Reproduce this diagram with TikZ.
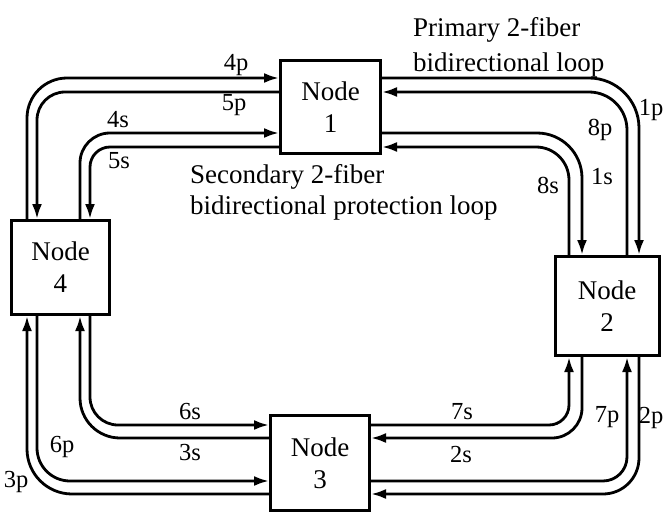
\documentclass[tikz,border=0pt]{standalone}
\usepackage{fontspec}
\setmainfont{Liberation Serif}
\usepackage{tikz}
\usetikzlibrary{arrows.meta}

\begin{document}
\begin{tikzpicture}[x=1pt,y=-1pt,font=\fontsize{27}{32}\selectfont,
  nodebox/.style={draw,line width=3pt,align=center,inner sep=0pt},
  fib/.style={line width=2.8pt,rounded corners=#1,-{Latex[length=15pt,width=10pt]}},
  lab/.style={font=\fontsize{24.5}{28}\selectfont,inner sep=0pt}]
  % page = 664 x 516, y runs downwards
  \useasboundingbox (0,0) rectangle (664,516);
  \node[nodebox,minimum width=100pt,minimum height=93pt] (n1) at (330.5,107) {Node\\1};
  \node[nodebox,minimum width=104pt,minimum height=99pt] (n2) at (607,306) {Node\\2};
  \node[nodebox,minimum width=99pt,minimum height=95pt] (n3) at (320,463) {Node\\3};
  \node[nodebox,minimum width=98pt,minimum height=94pt] (n4) at (60.5,267.5) {Node\\4};
  % loop captions
  \node[align=left,anchor=north west,inner sep=0pt,font=\fontsize{27}{35}\selectfont] (capP) at (413,17) {Primary 2-fiber\\bidirectional loop};
  \node[align=left,anchor=north west,inner sep=0pt,font=\fontsize{27}{31}\selectfont] (capS) at (190,164) {Secondary 2-fiber\\bidirectional protection loop};
  % Node 4 <-> Node 1
  \draw[fib=40] (n4.north -| 27,0) |- (n1.west |- 0,78);   % 4p
  \draw[fib=28] (n1.west |- 0,92) -| (n4.north -| 37,0);   % 5p
  \draw[fib=30] (n4.north -| 80,0) |- (n1.west |- 0,133);  % 4s
  \draw[fib=20] (n1.west |- 0,147) -| (n4.north -| 90,0);  % 5s
  % Node 1 <-> Node 2
  \draw[fib=50] (n1.east |- 0,78) -| (n2.north -| 639,0);  % 1p
  \draw[fib=38] (n2.north -| 627,0) |- (n1.east |- 0,92);  % 8p
  \draw[fib=45] (n1.east |- 0,133) -| (n2.north -| 582,0); % 1s
  \draw[fib=33] (n2.north -| 569,0) |- (n1.east |- 0,147); % 8s
  % Node 3 <-> Node 2
  \draw[fib=20] (n3.east |- 0,425) -| (n2.south -| 569,0); % 7s
  \draw[fib=30] (n2.south -| 582,0) |- (n3.east |- 0,438); % 2s
  \draw[fib=24] (n3.east |- 0,481) -| (n2.south -| 627,0); % 7p
  \draw[fib=36] (n2.south -| 639,0) |- (n3.east |- 0,494); % 2p
  % Node 4 <-> Node 3
  \draw[fib=28] (n4.south -| 90,0) |- (n3.west |- 0,425);  % 6s
  \draw[fib=40] (n3.west |- 0,438) -| (n4.south -| 80,0);  % 3s
  \draw[fib=33] (n4.south -| 37,0) |- (n3.west |- 0,481);  % 6p
  \draw[fib=45] (n3.west |- 0,494) -| (n4.south -| 27,0);  % 3p
  % fiber labels
  \node[lab] (l4p) at (236,65) {4p};
  \node[lab] (l5p) at (234,105) {5p};
  \node[lab] (l4s) at (118,120) {4s};
  \node[lab] (l5s) at (119,161) {5s};
  \node[lab] (l1p) at (651,110) {1p};
  \node[lab] (l8p) at (600,130) {8p};
  \node[lab] (l1s) at (602,177) {1s};
  \node[lab] (l8s) at (548,185) {8s};
  \node[lab] (l7s) at (462,412) {7s};
  \node[lab] (l2s) at (461,455) {2s};
  \node[lab] (l7p) at (607,417) {7p};
  \node[lab] (l2p) at (651,418) {2p};
  \node[lab] (l6s) at (190,412) {6s};
  \node[lab] (l3s) at (190,453) {3s};
  \node[lab] (l6p) at (62,447) {6p};
  \node[lab] (l3p) at (16,482) {3p};
\end{tikzpicture}
\end{document}
